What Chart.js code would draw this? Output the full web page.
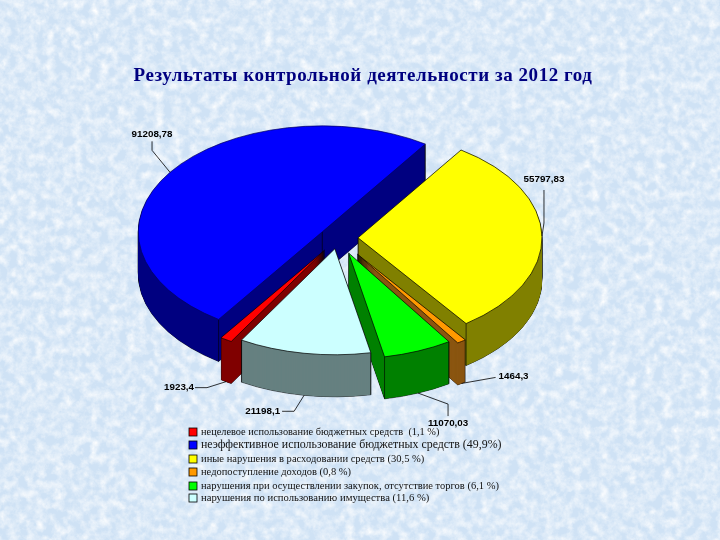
<!DOCTYPE html>
<html>
<head>
<meta charset="utf-8">
<style>
  html, body { margin: 0; width: 720px; height: 540px; overflow: hidden; background-color: #d3e4f6; }
  #bg { position: absolute; left: 0; top: 0; width: 720px; height: 540px; }
  #chart { position: absolute; left: 0; top: 0; }
</style>
<script src="https://cdn.jsdelivr.net/npm/chart.js@4/dist/chart.umd.min.js"></script>
</head>
<body>
<svg id="bg" xmlns="http://www.w3.org/2000/svg">
  <filter id="mottle" x="0" y="0" width="100%" height="100%">
    <feTurbulence type="fractalNoise" baseFrequency="0.11" numOctaves="4" seed="7"/>
    <feColorMatrix type="matrix" values="0 0 0 0 1  0 0 0 0 1  0 0 0 0 1  1.1 1.1 0 0 -0.85"/>
  </filter>
  <rect width="720" height="540" fill="#cfe2f5"/>
  <rect width="720" height="540" filter="url(#mottle)"/>
</svg>
<canvas id="chart" width="720" height="540"></canvas>
<script>
const chartTitle = 'Результаты контрольной деятельности за 2012 год'
const categories = [
  'нецелевое использование бюджетных средств  (1,1 %)',
  'неэффективное использование бюджетных средств (49,9%)',
  'иные нарушения в расходовании средств (30,5 %)',
  'недопоступление доходов (0,8 %)',
  'нарушения при осуществлении закупок, отсутствие торгов (6,1 %)',
  'нарушения по использованию имущества (11,6 %)'
]
const amounts = [1923.4, 91208.78, 55797.83, 1464.3, 11070.03, 21198.1]
const amountLabels = ['1923,4', '91208,78', '55797,83', '1464,3', '11070,03', '21198,1']

const topColors = ['#ff0000', '#0000ff', '#ffff00', '#ff9900', '#00ff00', '#ccffff']
const wallColors = ['#800000', '#000080', '#808000', '#8a5510', '#008000', '#668080']

// pie geometry
const pieCenter = { x: 338, y: 238 }
const tilt = 0.576
const depth = 42
const explode = [25, 19, 20, 34, 28, 19]
const drawOrder = [1, 2, 3, 4, 0, 5]

// leader lines: offsets from the slice's rim, last point is where the label hangs
const leaders = [
  { points: [[-19, 6], [-31, 6]], dx: -1, dy: 0, align: 'right', onWall: true },
  { points: [[-18, -22], [-18, -31]], dx: 0, dy: -7, align: 'center', onWall: false },
  { points: [[2, -13], [2, -46]], dx: 0, dy: -11, align: 'center', onWall: false },
  { points: [[34, -6]], dx: 3, dy: -1, align: 'left', onWall: true },
  { points: [[30, 11], [30, 23]], dx: 0, dy: 7, align: 'center', onWall: true },
  { points: [[-10, 16], [-22, 16]], dx: -2, dy: 0, align: 'right', onWall: true }
]

// the legend rows do not share one size in the picture
const legendSizes = [10.35, 11.9, 10.55, 10.5, 10.5, 10.65]
const legendLeft = 189
const legendRows = [432, 445, 459, 472, 486, 498]

// explode by hand, ArcElement's own offset also changes the radius of narrow slices
function drawArc(ctx, arc, i, lift, overrides) {
  const mid = (arc.startAngle + arc.endAngle) / 2
  const savedOptions = arc.options
  arc.options = Object.assign(Object.create(savedOptions), { offset: 0 }, overrides)
  ctx.save()
  ctx.translate(Math.cos(mid) * explode[i], Math.sin(mid) * explode[i] + lift / tilt)
  arc.draw(ctx)
  ctx.restore()
  arc.options = savedOptions
}

const pie3d = {
  id: 'pie3d',
  beforeDraw(chart) {
    chart.ctx.letterSpacing = '0.55px'
  },
  beforeDatasetsDraw(chart) {
    const ctx = chart.ctx
    ctx.letterSpacing = '0px'
    const arcs = chart.getDatasetMeta(0).data
    const area = chart.chartArea
    const cx = (area.left + area.right) / 2
    const cy = (area.top + area.bottom) / 2

    ctx.save()
    ctx.translate(pieCenter.x - cx, pieCenter.y)
    ctx.scale(1, tilt)
    ctx.translate(0, -cy)

    drawOrder.forEach(i => {
      const arc = arcs[i]
      const mid = (arc.startAngle + arc.endAngle) / 2
      const ox = cx + Math.cos(mid) * explode[i]
      const oy = cy + Math.sin(mid) * explode[i]
      const r = arc.outerRadius

      // side walls: a stack of copies of the slice, outlined first and filled over
      for (let d = depth; d > 0; d--) {
        drawArc(ctx, arc, i, d, { backgroundColor: '#000', borderColor: '#000', borderWidth: 0.7 })
      }
      for (let d = depth; d > 0; d--) {
        drawArc(ctx, arc, i, d, { backgroundColor: wallColors[i], borderWidth: 0 })
      }

      // vertical edges of the walls, the centre one only shows on the two big slices
      const corners = [
        [ox + Math.cos(arc.startAngle) * r, oy + Math.sin(arc.startAngle) * r],
        [ox + Math.cos(arc.endAngle) * r, oy + Math.sin(arc.endAngle) * r]
      ]
      if (i === 1 || i === 2) corners.push([ox, oy])
      ctx.strokeStyle = '#000'
      ctx.lineWidth = 0.8
      if (i !== 0 && i !== 3) {
        corners.forEach(c => {
          ctx.beginPath()
          ctx.moveTo(c[0], c[1])
          ctx.lineTo(c[0], c[1] + depth / tilt)
          ctx.stroke()
        })
      }

      drawArc(ctx, arc, i, 0, { backgroundColor: topColors[i], borderColor: i === 1 ? '#000060' : '#000', borderWidth: 0.9 })
    })
    ctx.restore()
    return false
  },

  afterDraw(chart) {
    const ctx = chart.ctx
    const arcs = chart.getDatasetMeta(0).data

    // value labels with leader lines
    ctx.save()
    ctx.font = 'bold 9.8px "Liberation Sans"'
    ctx.textBaseline = 'middle'
    ctx.strokeStyle = '#000'
    ctx.fillStyle = '#000'
    ctx.lineWidth = 0.8
    arcs.forEach((arc, i) => {
      const mid = (arc.startAngle + arc.endAngle) / 2
      const leader = leaders[i]
      const rimX = pieCenter.x + Math.cos(mid) * (explode[i] + arc.outerRadius)
      const rimY = pieCenter.y + tilt * Math.sin(mid) * (explode[i] + arc.outerRadius) + (leader.onWall ? depth : 0)

      ctx.beginPath()
      ctx.moveTo(rimX, rimY)
      leader.points.forEach(p => ctx.lineTo(rimX + p[0], rimY + p[1]))
      ctx.stroke()

      const last = leader.points[leader.points.length - 1]
      ctx.textAlign = leader.align
      ctx.fillText(amountLabels[i], rimX + last[0] + leader.dx, rimY + last[1] + leader.dy)
    })

    // legend
    ctx.textAlign = 'left'
    categories.forEach((name, i) => {
      const y = legendRows[i]
      ctx.fillStyle = topColors[i]
      ctx.fillRect(legendLeft, y - 4, 8, 8)
      ctx.strokeRect(legendLeft, y - 4, 8, 8)
      ctx.fillStyle = '#111'
      ctx.font = legendSizes[i] + 'px "Liberation Serif"'
      ctx.fillText(name, legendLeft + 12, y)
    })
    ctx.restore()
  }
}

new Chart(document.querySelector('#chart'), {
  type: 'pie',
  data: {
    labels: categories,
    datasets: [{
      data: amounts,
      backgroundColor: topColors,
      borderWidth: 0
    }]
  },
  options: {
    responsive: false,
    animation: false,
    radius: 184,
    rotation: 210.5,
    layout: { padding: { left: 6 } },
    plugins: {
      legend: { display: false },
      tooltip: { enabled: false },
      title: {
        display: true,
        text: chartTitle,
        color: '#000080',
        font: { family: '"Liberation Serif"', size: 19, weight: 'bold' },
        padding: { top: 65, bottom: 10 }
      }
    }
  },
  plugins: [pie3d]
})
</script>
</body>
</html>
